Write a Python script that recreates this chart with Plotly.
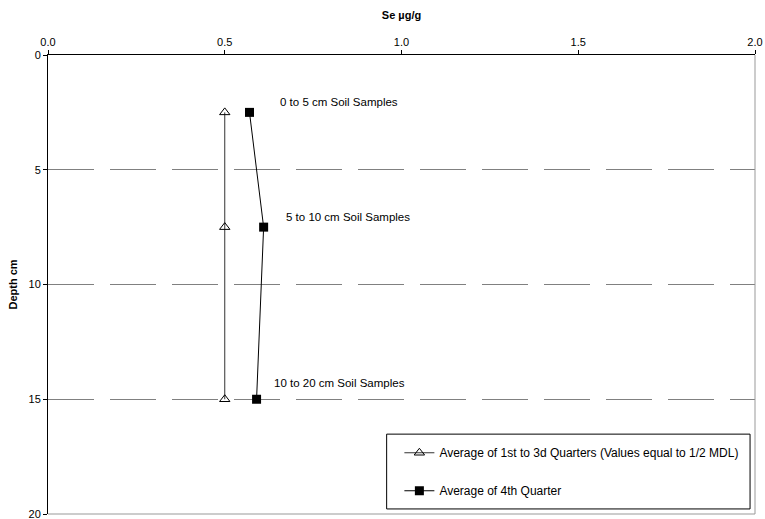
import plotly.graph_objects as go

# Data
depth_cm = [2.5, 7.5, 15]
avg_q1_q3 = [0.5, 0.5, 0.5]
avg_q4 = [0.57, 0.61, 0.59]
series_names = ["Average of 1st to 3d Quarters (Values equal to 1/2 MDL)", "Average of 4th Quarter"]
label_texts = ["0 to 5 cm Soil Samples", "5 to 10 cm Soil Samples", "10 to 20 cm Soil Samples"]
label_x = [0.65, 0.667, 0.633]
label_y = [2.05, 7.05, 14.3]
x_ticks = [0.0, 0.5, 1.0, 1.5, 2.0]
y_ticks = [0, 5, 10, 15, 20]

FONT = "Liberation Sans, Arial, sans-serif"

fig = go.Figure()
fig.add_trace(go.Scatter(
    x=avg_q1_q3, y=depth_cm, mode="lines+markers", name=series_names[0],
    line=dict(color="#333333", width=1),
    marker=dict(symbol="triangle-up-open", size=9, color="black", line=dict(width=1, color="black")),
    legendgroup="a",
))
fig.add_trace(go.Scatter(
    x=avg_q4, y=depth_cm, mode="lines+markers", name=series_names[1],
    line=dict(color="black", width=1),
    marker=dict(symbol="square", size=9, color="black"),
    legendgroup="b",
))

for t, xx, yy in zip(label_texts, label_x, label_y):
    fig.add_annotation(x=xx, y=yy, text=t, showarrow=False, xanchor="left", yanchor="middle",
                       font=dict(family=FONT, size=11.5, color="black"))

# right and bottom frame (gray)
fig.add_shape(type="line", xref="x domain", yref="y domain", x0=1, x1=1, y0=0, y1=1,
              line=dict(color="#999999", width=1))
fig.add_shape(type="line", xref="x domain", yref="y domain", x0=0, x1=1, y0=0, y1=0,
              line=dict(color="#999999", width=1))
# legend box
fig.add_shape(type="rect", xref="paper", yref="paper", x0=0.479, x1=0.993, y0=0.011, y1=0.174,
              line=dict(color="black", width=1), fillcolor="white", layer="below")

fig.update_layout(
    width=765, height=519,
    margin=dict(l=48, r=10, t=55, b=5),
    plot_bgcolor="white", paper_bgcolor="white",
    font=dict(family=FONT, size=11, color="black"),
    showlegend=True,
    legend=dict(x=0.497, y=0.165, xanchor="left", yanchor="top", bgcolor="rgba(0,0,0,0)",
                borderwidth=0, tracegroupgap=19, font=dict(size=12), itemwidth=30),
    xaxis=dict(
        side="top", range=[0, 2], tickvals=x_ticks, tickformat=".1f",
        ticks="outside", ticklen=4, tickcolor="black",
        showline=True, linecolor="black", linewidth=1,
        showgrid=False, zeroline=False, automargin=False, ticklabeloverflow="allow",
        title=dict(text="<b>Se µg/g</b>", font=dict(size=11), standoff=13),
    ),
    yaxis=dict(
        range=[20, 0], tickvals=y_ticks,
        ticks="outside", ticklen=4, tickcolor="black",
        showline=True, linecolor="black", linewidth=1,
        showgrid=True, gridcolor="#808080", gridwidth=1, griddash="46px,16px",
        zeroline=False, automargin=False, ticklabeloverflow="allow",
        title=dict(text="<b>Depth cm</b>", font=dict(size=11), standoff=8),
    ),
)

fig.write_html("out.html", config={"displayModeBar": False},
               post_script="document.body.style.margin='0px';document.body.style.overflow='hidden';")
